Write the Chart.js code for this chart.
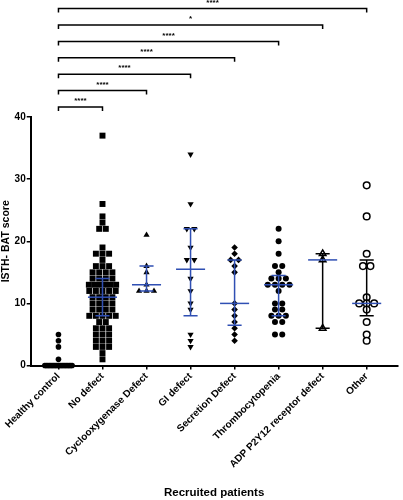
<!DOCTYPE html>
<html>
<head>
<meta charset="utf-8">
<script src="https://cdn.jsdelivr.net/npm/chart.js@4.4.1/dist/chart.umd.min.js"></script>
<style>
    html, body { margin: 0; padding: 0; background: #fff; }
    #wrap { width: 403px; height: 500px; }
</style>
</head>
<body>
<div id="wrap"><canvas id="chart"></canvas></div>
<script>
// Categories
const groups = ['Healthy control', 'No defect', 'Cyclooxygenase Defect', 'GI defect',
    'Secretion Defect', 'Thrombocytopenia', 'ADP P2Y12 receptor defect', 'Other'];

// ISTH-BAT scores per group
const healthyControl = [0, 0, 0, 0, 0, 0, 0, 0, 0, 0, 0, 0, 0, 0, 0, 0, 0, 0, 0, 0, 1, 3, 4, 5];
const noDefect = [37, 26, 24, 23, 22, 22, 19, 18, 18, 18, 17, 16, 16, 16,
    15, 15, 15, 15, 14, 14, 14, 14, 13, 13, 13, 13, 13, 13, 12, 12, 12, 12, 12,
    11, 11, 11, 11, 10, 10, 10, 10, 9, 9, 9, 9, 8, 8, 8, 8, 8, 7, 7,
    6, 6, 6, 5, 5, 5, 4, 4, 4, 3, 3, 3, 2, 1];
const cyclooxygenase = [21, 16, 15, 13, 12, 12, 12];
const giDefect = [34, 26, 22, 22, 19, 17, 17, 14, 12, 10, 9, 5, 4, 3];
const secretion = [19, 18, 17, 17, 16, 15, 10, 9, 8, 7, 6, 5, 4];
const thrombocytopenia = [22, 20, 18, 16, 16, 15, 14, 14, 14, 13, 13, 13, 13, 12,
    10, 10, 9, 9, 8, 8, 8, 7, 7, 5, 5];
const adpP2y12 = [18, 17, 6];
const other = [29, 24, 18, 16, 16, 11, 10, 10, 10, 9, 7, 5, 4];

const groupValues = [healthyControl, noDefect, cyclooxygenase, giDefect,
    secretion, thrombocytopenia, adpP2y12, other];

// Median and interquartile / range bars
const medians = [null, 11, 13, 15.5, 10, 13, 17, 10];
const lowerBars = [null, 8, 12, 8, 6.5, 8, 6, 8];
const upperBars = [null, 14, 16, 22, 17, 14.5, 18, 17];

const yTicks = [0, 10, 20, 30, 40];

// Significance brackets, all against Healthy control
const sigTargets = [1, 2, 3, 4, 5, 6, 7];
const sigLabels = ['****', '****', '****', '****', '****', '*', '****'];

// Styles
const BLUE = '#2f4fb3';
const FONT = 'Liberation Sans, Arial, sans-serif';
const markers = [
    { style: 'circle', radius: 2.8, fill: '#000' },
    { style: 'rect', radius: 4.2, fill: '#000' },
    { style: 'triangle', radius: 3.6, fill: '#000' },
    { style: 'triangle', radius: 3.6, fill: '#000', rotation: 180 },
    { style: 'rectRot', radius: 3.3, fill: '#000' },
    { style: 'circle', radius: 3, fill: '#000' },
    { style: 'triangle', radius: 3.8, fill: '#fff' },
    { style: 'circle', radius: 3.3, fill: '#fff' }
];
const spreadStep = [0.05, 0.15, 0.17, 0.17, 0.18, 0.165, 0.17, 0.17];
const barColors = [BLUE, BLUE, BLUE, BLUE, BLUE, BLUE, '#000', '#000'];

// Spread points sharing the same value side by side, like a column scatter
function spreadPoints(values, index, step, maxHalf) {
    const counts = {};
    values.forEach(v => counts[v] = (counts[v] || 0) + 1);
    const seen = {};
    return values.map(v => {
        const n = counts[v];
        seen[v] = (seen[v] || 0) + 1;
        let s = step;
        if (n > 1 && (n - 1) * s / 2 > maxHalf) s = 2 * maxHalf / (n - 1);
        return { x: index + (seen[v] - 1 - (n - 1) / 2) * s, y: v };
    });
}

const datasets = groupValues.map((vals, i) => ({
    label: groups[i],
    data: spreadPoints(vals, i, spreadStep[i], 0.31),
    pointStyle: markers[i].style,
    pointRadius: markers[i].radius,
    pointRotation: markers[i].rotation || 0,
    backgroundColor: markers[i].fill,
    borderColor: '#000',
    borderWidth: markers[i].fill === '#fff' ? 1.5 : 0,
    clip: false
}));

// Median line + whiskers
const medianPlugin = {
    id: 'medianBars',
    afterDatasetsDraw(chart) {
        const { ctx, scales: { x, y } } = chart;
        ctx.save();
        medians.forEach((m, i) => {
            if (m === null) return;
            ctx.strokeStyle = barColors[i];
            ctx.lineWidth = 1.5;
            ctx.beginPath();
            ctx.moveTo(x.getPixelForValue(i), y.getPixelForValue(lowerBars[i]));
            ctx.lineTo(x.getPixelForValue(i), y.getPixelForValue(upperBars[i]));
            [lowerBars[i], upperBars[i]].forEach(v => {
                ctx.moveTo(x.getPixelForValue(i - 0.16), y.getPixelForValue(v));
                ctx.lineTo(x.getPixelForValue(i + 0.16), y.getPixelForValue(v));
            });
            ctx.stroke();
            ctx.strokeStyle = BLUE;
            ctx.beginPath();
            ctx.moveTo(x.getPixelForValue(i - 0.33), y.getPixelForValue(m));
            ctx.lineTo(x.getPixelForValue(i + 0.33), y.getPixelForValue(m));
            ctx.stroke();
        });
        ctx.restore();
    }
};

// Significance brackets above the plot
const bracketPlugin = {
    id: 'brackets',
    afterDraw(chart) {
        const { ctx, chartArea, scales: { x } } = chart;
        ctx.save();
        ctx.strokeStyle = '#000';
        ctx.fillStyle = '#000';
        ctx.lineWidth = 1.5;
        ctx.font = 'bold 8px ' + FONT;
        ctx.textAlign = 'center';
        ctx.textBaseline = 'middle';
        sigTargets.forEach((t, k) => {
            const yLine = chartArea.top - 10 - k * 16.4;
            const x0 = x.getPixelForValue(0);
            const x1 = x.getPixelForValue(t);
            ctx.beginPath();
            ctx.moveTo(x0, yLine + 4);
            ctx.lineTo(x0, yLine);
            ctx.lineTo(x1, yLine);
            ctx.lineTo(x1, yLine + 4);
            ctx.stroke();
            ctx.fillText(sigLabels[k], (x0 + x1) / 2, yLine - 6);
        });
        ctx.restore();
    }
};

new Chart(document.getElementById('chart'), {
    type: 'scatter',
    data: { datasets },
    options: {
        responsive: true,
        maintainAspectRatio: false,
        animation: false,
        layout: { padding: { top: 117, left: 0, right: 0, bottom: 0 } },
        plugins: {
            legend: { display: false },
            tooltip: { enabled: false }
        },
        scales: {
            x: {
                type: 'linear',
                min: -0.63,
                max: 7.7,
                afterBuildTicks: axis => { axis.ticks = groups.map((g, i) => ({ value: i })); },
                border: { display: true, color: '#000', width: 2 },
                grid: { drawOnChartArea: false, drawTicks: true, tickLength: 4, color: '#000', lineWidth: 1.5 },
                ticks: {
                    autoSkip: false,
                    minRotation: 45,
                    maxRotation: 45,
                    color: '#000',
                    padding: 1,
                    font: { family: FONT, weight: 'bold', size: 10 },
                    callback: v => groups[v]
                },
                title: {
                    display: true,
                    text: 'Recruited patients',
                    color: '#000',
                    font: { family: FONT, weight: 'bold', size: 11.5 },
                    padding: { top: 15, bottom: 0 }
                }
            },
            y: {
                min: 0,
                max: 40,
                afterBuildTicks: axis => { axis.ticks = yTicks.map(v => ({ value: v })); },
                border: { display: true, color: '#000', width: 2 },
                grid: { drawOnChartArea: false, drawTicks: true, tickLength: 4, color: '#000', lineWidth: 1.5 },
                ticks: {
                    color: '#000',
                    padding: 1,
                    font: { family: FONT, weight: 'bold', size: 10 }
                },
                title: {
                    display: true,
                    text: 'ISTH- BAT score',
                    color: '#000',
                    font: { family: FONT, weight: 'bold', size: 10.5 },
                    padding: { top: 0, bottom: 1 }
                }
            }
        }
    },
    plugins: [medianPlugin, bracketPlugin]
});
</script>
</body>
</html>
